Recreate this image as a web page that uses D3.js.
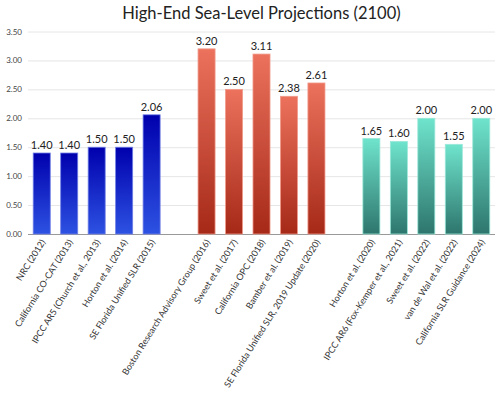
<!DOCTYPE html>
<html><head><meta charset="utf-8">
<script src="https://cdn.jsdelivr.net/npm/d3@7"></script>
<style>body{margin:0;background:#fff}svg{display:block}text{font-family:Lato,"Open Sans",sans-serif}</style>
</head><body><svg id="c" width="500" height="398"></svg>
<script>
const categories = ["NRC (2012)","California CO-CAT (2013)","IPCC AR5 (Church et al., 2013)","Horton et al. (2014)","SE Florida Unified SLR (2015)","",
 "Boston Research Advisory Group (2016)","Sweet et al. (2017)","California OPC (2018)","Bamber et al. (2019)","SE Florida Unified SLR, 2019 Update (2020)"," ",
 "Horton et al. (2020)","IPCC AR6 (Fox-Kemper et al., 2021)","Sweet et al. (2022)","van de Wal et al. (2022)","California SLR Guidance (2024)"];
const values = [1.40,1.40,1.50,1.50,2.06,null,3.20,2.50,3.11,2.38,2.61,null,1.65,1.60,2.00,1.55,2.00];
const groups = [0,0,0,0,0,-1,1,1,1,1,1,-1,2,2,2,2,2];
const yTicks = [0,0.5,1,1.5,2,2.5,3,3.5];
const title = "High-End Sea-Level Projections (2100)";
const grads = [["#0000ad","#2d52e2","#6f7fe6"],["#ec725d","#a62918","#f09a8a"],["#6fe4cd","#2d756d","#9ae8d8"]];

const svg = d3.select("#c");
const L=28,R=495,T=31.5,B=234;
const x = d3.scaleBand().domain(d3.range(categories.length)).range([L,R]).paddingInner(0.38).paddingOuter(0.19);
const y = d3.scaleLinear().domain([0,3.5]).range([B,T]);
const defs = svg.append("defs");
grads.forEach((g,i)=>{
  const lg = defs.append("linearGradient").attr("id","g"+i).attr("x1",0).attr("x2",0).attr("y1",0).attr("y2",1);
  lg.append("stop").attr("offset","0%").attr("stop-color",g[0]);
  lg.append("stop").attr("offset","100%").attr("stop-color",g[1]);
});
svg.append("text").attr("x",(L+R)/2).attr("y",19).attr("text-anchor","middle").attr("font-size",16.5).attr("fill","#222").text(title);
const ya = svg.append("g").attr("transform",`translate(${L},0)`).call(d3.axisLeft(y).tickValues(yTicks).tickFormat(d3.format(".2f")).tickSize(-(R-L)));
ya.select(".domain").remove();
ya.selectAll(".tick line").attr("stroke","#e6e6e6");
ya.selectAll(".tick text").attr("x",-6).attr("font-size",8).attr("fill","#444").style("font-family","Lato,sans-serif");
svg.append("line").attr("x1",L).attr("x2",R).attr("y1",B+0.5).attr("y2",B+0.5).attr("stroke","#999");
const idx = d3.range(categories.length).filter(i=>values[i]!=null);
svg.selectAll("rect.bar").data(idx).join("rect").attr("class","bar")
  .attr("x",i=>x(i)).attr("width",x.bandwidth()).attr("y",i=>y(values[i])).attr("height",i=>B-y(values[i]))
  .attr("fill",i=>`url(#g${groups[i]})`).attr("stroke",i=>grads[groups[i]][2]).attr("stroke-width",0.8);
svg.selectAll("text.val").data(idx).join("text").attr("class","val")
  .attr("x",i=>x(i)+x.bandwidth()/2).attr("y",i=>y(values[i])-4).attr("text-anchor","middle")
  .attr("font-size",11).attr("fill","#222").text(i=>values[i].toFixed(2));
const xa = svg.append("g").attr("transform",`translate(0,${B})`).call(d3.axisBottom(x).tickSize(0).tickFormat(i=>categories[i]));
xa.select(".domain").remove();
xa.selectAll(".tick text").attr("font-size",9).attr("fill","#333").style("font-family","Lato,sans-serif")
  .attr("text-anchor","end").attr("dy",0).attr("transform","translate(4,8) rotate(-58)").attr("y",0).attr("x",0);
</script></body></html>
